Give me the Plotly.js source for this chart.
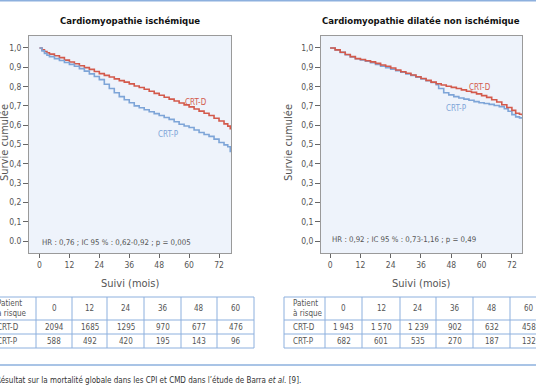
<!DOCTYPE html>
<html><head><meta charset="utf-8">
<script src="https://cdn.plot.ly/plotly-3.0.1.min.js"></script>
<style>html,body{margin:0;padding:0;background:#fff;}#chart{width:536px;height:386px;}</style>
</head><body><div id="chart"></div>
<script>
// ---- Data ----
const xTickVals = [0, 12, 24, 36, 48, 60, 72];
const yTickVals = [0, 0.1, 0.2, 0.3, 0.4, 0.5, 0.6, 0.7, 0.8, 0.9, 1.0];
const yTickTextLeft = ['0.0','0,1','0,2','0,3','0,4','0,5','0,6','0,7','0,8','0,9','1,0'];
const yTickTextRight = ['0,0','0,1','0,2','0,3','0,4','0,5','0,6','0,7','0,8','0,9','1,0'];

// Cardiomyopathie ischémique
const ischTimeD = [0,1,2,3,4,6,8,10,12,14,16,18,20,22,24,26,28,30,32,34,36,38,40,42,44,46,48,50,52,54,56,58,60,62,64,66,68,70,72,74,75.5,76.5];
const ischSurvD = [1.0,0.99,0.982,0.975,0.968,0.96,0.95,0.937,0.927,0.918,0.908,0.898,0.889,0.878,0.867,0.858,0.85,0.84,0.831,0.823,0.814,0.803,0.795,0.786,0.776,0.765,0.755,0.745,0.735,0.725,0.715,0.705,0.695,0.684,0.673,0.662,0.65,0.636,0.622,0.607,0.595,0.578];
const ischTimeP = [0,1,2,3,4,6,8,10,12,14,16,18,20,22,24,26,28,30,32,34,36,38,40,42,44,46,48,50,52,54,56,58,60,62,64,66,68,70,72,74,75.5,76.5];
const ischSurvP = [1.0,0.985,0.972,0.962,0.955,0.945,0.935,0.925,0.915,0.905,0.893,0.88,0.866,0.852,0.836,0.812,0.79,0.768,0.748,0.732,0.716,0.70,0.69,0.68,0.67,0.66,0.65,0.64,0.63,0.618,0.605,0.596,0.588,0.575,0.562,0.552,0.542,0.528,0.51,0.498,0.488,0.46];

// Cardiomyopathie dilatée non ischémique
const dilTimeD = [0,2,4,6,8,10,12,14,16,18,20,22,24,26,28,30,32,34,36,38,40,42,44,46,48,50,52,54,56,58,60,62,64,66,68,70,72,73.5,75,76];
const dilSurvD = [1.0,0.99,0.978,0.966,0.955,0.945,0.94,0.934,0.928,0.92,0.912,0.905,0.896,0.886,0.877,0.869,0.86,0.851,0.842,0.832,0.823,0.815,0.808,0.802,0.796,0.79,0.783,0.776,0.77,0.762,0.753,0.744,0.732,0.72,0.706,0.692,0.677,0.662,0.657,0.652];
const dilTimeP = [0,2,4,6,8,10,12,14,16,18,20,22,24,26,28,30,32,34,36,38,40,42,43,45,47,49,51,53,55,57,59,61,63,65,67,69,70.5,72,73.5,75,76];
const dilSurvP = [1.0,0.99,0.977,0.965,0.954,0.944,0.938,0.931,0.924,0.915,0.906,0.898,0.89,0.882,0.874,0.866,0.858,0.849,0.84,0.83,0.821,0.81,0.79,0.768,0.757,0.748,0.741,0.735,0.729,0.722,0.716,0.712,0.708,0.702,0.696,0.685,0.672,0.655,0.643,0.638,0.634];

// Patients à risque
const riskHeaders = ['0','12','24','36','48','60'];
const riskRowLabels = ['CRT-D','CRT-P'];
const ischRiskD = ['2094','1685','1295','970','677','476'];
const ischRiskP = ['588','492','420','195','143','96'];
const dilRiskD = ['1 943','1 570','1 239','902','632','458'];
const dilRiskP = ['682','601','535','270','187','132'];

const chartTitles = ['Cardiomyopathie ischémique','Cardiomyopathie dilatée non ischémique'];
const hrTexts = ['HR : 0,76 ; IC 95 % : 0,62-0,92 ; p = 0,005','HR : 0,92 ; IC 95 % : 0,73-1,16 ; p = 0,49'];

// ---- Styling / layout ----
const W = 536, H = 386;
const px = x => x / W;
const py = y => 1 - y / H;
const FONT = "'DejaVu Sans Condensed', 'Liberation Sans Narrow', Roboto, sans-serif";
const RED = '#d35a4c', BLUE = '#7ea5d8', GRAY = '#555', TBL = '#8db0de';

const traces = [
  {x: ischTimeD, y: ischSurvD, xaxis:'x', yaxis:'y', mode:'lines', line:{shape:'hv', color:RED, width:1.6}, name:'CRT-D'},
  {x: ischTimeP, y: ischSurvP, xaxis:'x', yaxis:'y', mode:'lines', line:{shape:'hv', color:BLUE, width:1.6}, name:'CRT-P'},
  {x: dilTimeP, y: dilSurvP, xaxis:'x2', yaxis:'y2', mode:'lines', line:{shape:'hv', color:BLUE, width:1.6}, name:'CRT-P'},
  {x: dilTimeD, y: dilSurvD, xaxis:'x2', yaxis:'y2', mode:'lines', line:{shape:'hv', color:RED, width:1.6}, name:'CRT-D'}
];

const yDomain = [py(253), py(36)];
function xax(domain, range) {
  return {domain, range, tickvals: xTickVals, ticktext: xTickVals.map(String), ticks:'outside', ticklen:4, tickcolor:'#666',
    showline:true, mirror:true, linecolor:'#9a9a9a', linewidth:1, showgrid:false, zeroline:false,
    tickfont:{family:FONT, size:8.5, color:GRAY}, fixedrange:true};
}
function yax(anchor, ticktext) {
  return {domain: yDomain, anchor, range:[-0.062, 1.062], tickvals: yTickVals, ticktext, ticks:'outside', ticklen:5, tickcolor:'#666',
    showline:true, mirror:true, linecolor:'#9a9a9a', linewidth:1, showgrid:false, zeroline:false,
    tickfont:{family:FONT, size:8.5, color:GRAY}, fixedrange:true};
}

const annotations = [];
const shapes = [];
function ann(text, x, y, opts) {
  annotations.push(Object.assign({text, x: px(x), y: py(y), xref:'paper', yref:'paper', showarrow:false,
    font:{family:FONT, size:8.5, color:GRAY}, xanchor:'center', yanchor:'middle'}, opts || {}));
}
function hline(x0, x1, y, color, width) {
  shapes.push({type:'line', xref:'paper', yref:'paper', x0:px(x0), x1:px(x1), y0:py(y), y1:py(y), line:{color, width}});
}
function vline(x, y0, y1, color, width) {
  shapes.push({type:'line', xref:'paper', yref:'paper', x0:px(x), x1:px(x), y0:py(y0), y1:py(y1), line:{color, width}});
}

// titles
ann(chartTitles[0], 130, 21, {font:{family:FONT, size:9.5, color:'#111', weight:'bold'}});
ann(chartTitles[1], 421, 21, {font:{family:FONT, size:9.5, color:'#111', weight:'bold'}});
// axis titles
ann('Survie cumulée', 4, 143, {textangle:-90, font:{family:FONT, size:11, color:GRAY}});
ann('Survie cumulée', 288, 143, {textangle:-90, font:{family:FONT, size:11, color:GRAY}});
ann('Suivi (mois)', 130, 283, {font:{family:FONT, size:11, color:GRAY}});
ann('Suivi (mois)', 421, 283, {font:{family:FONT, size:11, color:GRAY}});
// HR
ann(hrTexts[0], 40, 242, {xanchor:'left', font:{family:FONT, size:7.8, color:GRAY}});
ann(hrTexts[1], 330, 239, {xanchor:'left', font:{family:FONT, size:7.8, color:GRAY}});
// curve labels
ann('CRT-D', 196, 102, {font:{family:FONT, size:8, color:RED}});
ann('CRT-P', 168, 134, {font:{family:FONT, size:8, color:BLUE}});
ann('CRT-D', 480, 87, {font:{family:FONT, size:8, color:RED}});
ann('CRT-P', 456, 108, {font:{family:FONT, size:8, color:BLUE}});

// risk tables
const rowsY = [297, 320, 334, 348];
function table(cols, rowD, rowP) {
  for (const y of rowsY) hline(cols[0], cols[cols.length-1], y, TBL, 1);
  for (const x of cols) vline(x, rowsY[0], rowsY[3], TBL, 1);
  const lx = cols[0] + 7;
  ann('Patient<br>à risque', lx, (rowsY[0]+rowsY[1])/2, {xanchor:'left', align:'left', font:{family:FONT, size:8, color:GRAY}});
  ann(riskRowLabels[0], lx, (rowsY[1]+rowsY[2])/2, {xanchor:'left', font:{family:FONT, size:8, color:GRAY}});
  ann(riskRowLabels[1], lx, (rowsY[2]+rowsY[3])/2, {xanchor:'left', font:{family:FONT, size:8, color:GRAY}});
  for (let i = 0; i < riskHeaders.length; i++) {
    const cx = (cols[i+1] + cols[i+2]) / 2;
    ann(riskHeaders[i], cx, (rowsY[0]+rowsY[1])/2, {font:{family:FONT, size:8, color:GRAY}});
    ann(rowD[i], cx, (rowsY[1]+rowsY[2])/2, {font:{family:FONT, size:8, color:GRAY}});
    ann(rowP[i], cx, (rowsY[2]+rowsY[3])/2, {font:{family:FONT, size:8, color:GRAY}});
  }
}
table([-12, 36, 72, 107, 144, 181, 217, 254], ischRiskD, ischRiskP);
table([284, 325, 362, 400, 436, 473, 510, 547], dilRiskD, dilRiskP);

// page rules
hline(0, W, 0.8, TBL, 1.6);
hline(0, W, 365, TBL, 1.6);
ann('Résultat sur la mortalité globale dans les CPI et CMD dans l’étude de Barra <i>et al.</i> [9].', -6, 380,
  {xanchor:'left', font:{family:FONT, size:8, color:'#333'}});

const layout = {
  width: W, height: H, margin:{l:0, r:0, t:0, b:0}, paper_bgcolor:'#fff', plot_bgcolor:'#eef3fb',
  showlegend:false,
  xaxis: Object.assign(xax([px(29), px(231)], [-4.2, 76.8]), {anchor:'y'}),
  yaxis: yax('x', yTickTextLeft),
  xaxis2: Object.assign(xax([px(321), px(522)], [-3.6, 76]), {anchor:'y2'}),
  yaxis2: yax('x2', yTickTextRight),
  annotations, shapes
};
Plotly.newPlot('chart', traces, layout, {staticPlot:true, displayModeBar:false});
</script></body></html>
